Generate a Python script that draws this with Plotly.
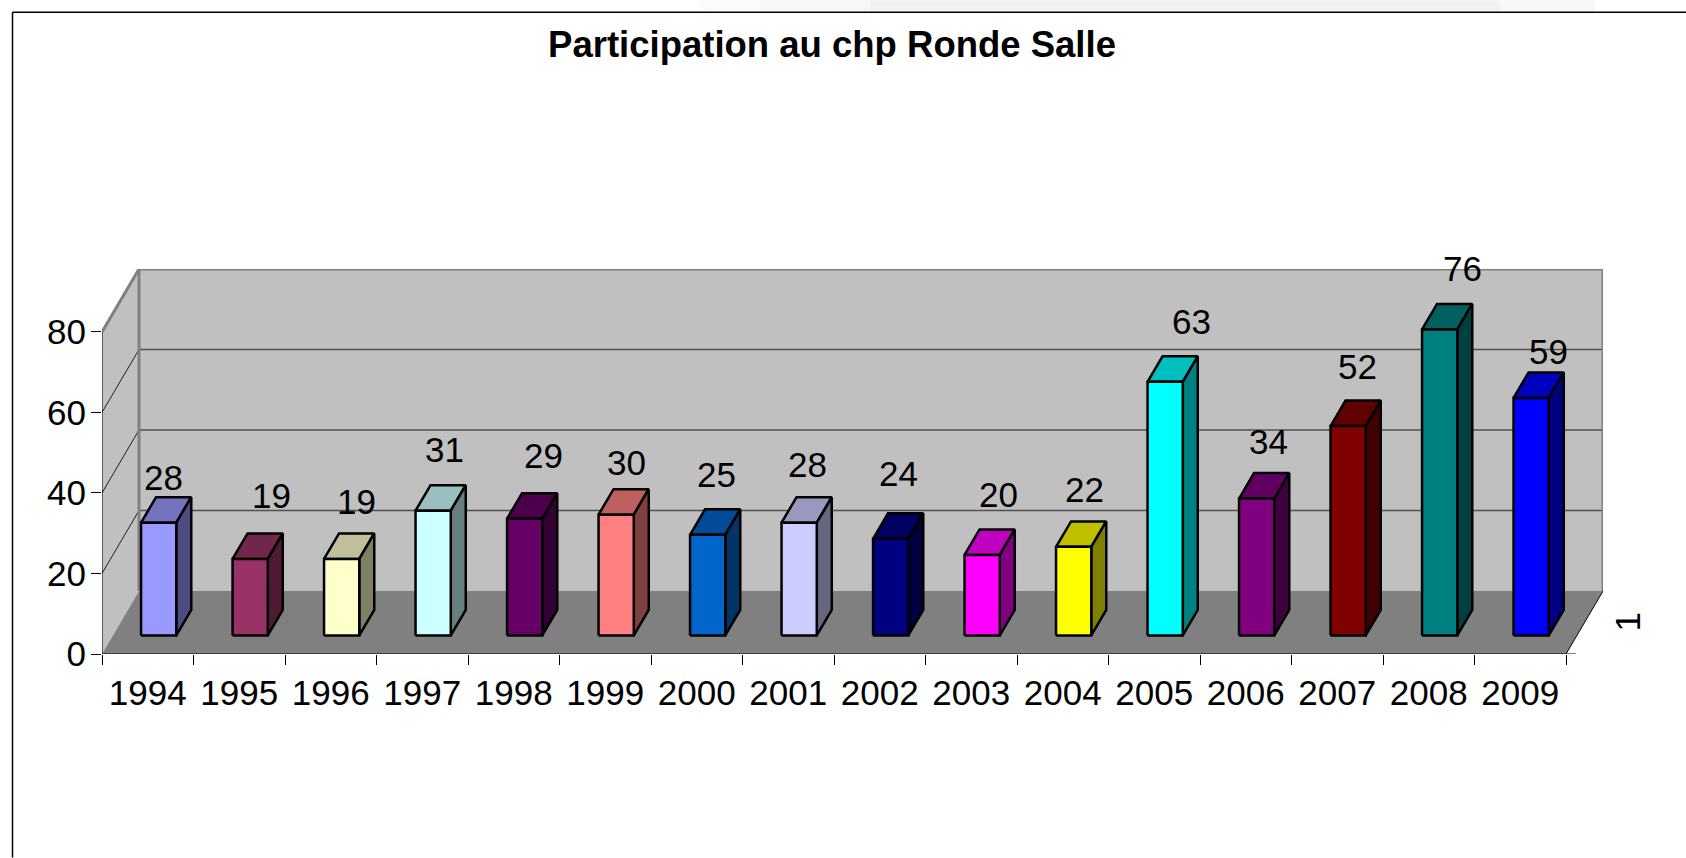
import plotly.graph_objects as go

years = [str(y) for y in range(1994, 2010)]
values = [28, 19, 19, 31, 29, 30, 25, 28, 24, 20, 22, 63, 34, 52, 76, 59]
bar_colors = ["#9999FF", "#993366", "#FFFFCC", "#CCFFFF", "#660066", "#FF8080",
              "#0066CC", "#CCCCFF", "#000080", "#FF00FF", "#FFFF00", "#00FFFF",
              "#800080", "#800000", "#008080", "#0000FF"]
y_ticks = [0, 20, 40, 60, 80]
title_text = "Participation au chp Ronde Salle"
series_label = "1"

# per-label placement nudges, in pixels, from the bar's top-back corner
label_dx = [-10, 6, 0, -4, 4, -5, -6, -7, -7, 1, -4, 11, -3, -6, 8, 2]
label_dy = [20, 38, 32, 36, 38, 27, 35, 33, 40, 35, 32, 35, 32, 34, 35, 21]

W, H = 1686, 858
L, R, T, B = 102, 1603, 269, 654.3
CAT_PX = 91.5
UNIT_PX = 4.03
DX_PX, DY_PX = 37, 63
DEPTH_X = DX_PX / CAT_PX
DEPTH_Y = DY_PX / UNIT_PX
X0, X1 = -0.5, 15.5
Y_TOP = 80
BAR_W = 0.385
D0, D1 = 0.295, 0.7
FONT = "Liberation Sans, Arial, sans-serif"
XMAX = X1 + DEPTH_X
YMAX = Y_TOP + DEPTH_Y


def project(x, y, d):
    return x + DEPTH_X * d, y + DEPTH_Y * d


def shade(hex_color, k):
    r, g, b = (int(hex_color[i:i + 2], 16) for i in (1, 3, 5))
    return f"rgb({round(r * k)},{round(g * k)},{round(b * k)})"


fig = go.Figure()


def poly(points, fill, line_color=None, width=0):
    xs, ys = zip(*points)
    fig.add_trace(go.Scatter(
        x=list(xs) + [xs[0]], y=list(ys) + [ys[0]], mode="lines", fill="toself",
        fillcolor=fill, line=dict(color=line_color or fill, width=width),
        hoverinfo="skip", showlegend=False, cliponaxis=False))


def seg(points, color, width):
    xs, ys = zip(*points)
    fig.add_trace(go.Scatter(x=list(xs), y=list(ys), mode="lines",
                             line=dict(color=color, width=width),
                             hoverinfo="skip", showlegend=False, cliponaxis=False))


# walls and floor
poly([project(X0, 0, 1), project(X1, 0, 1), project(X1, Y_TOP, 1), project(X0, Y_TOP, 1)], "#C0C0C0")
poly([project(X0, 0, 0), project(X0, 0, 1), project(X0, Y_TOP, 1), project(X0, Y_TOP, 0)], "#C0C0C0")
poly([project(X0, 0, 0), project(X1, 0, 0), project(X1, 0, 1), project(X0, 0, 1)], "#808080")

# gridlines
for v in y_ticks[1:-1]:
    seg([project(X0, v, 1), project(X1, v, 1)], "#505050", 1.5)
    seg([project(X0, v, 0), project(X0, v, 1)], "#202020", 1)

# wall frame
seg([project(X0, Y_TOP, 0), project(X0, Y_TOP, 1), project(X1, Y_TOP, 1), project(X1, 0, 1)], "#808080", 3)
seg([project(X0, 0, 1), project(X0, Y_TOP, 1)], "#808080", 3)
seg([project(X0, Y_TOP, 0), project(X0, 0, 0), project(X1, 0, 0), project(X1, 0, 1)], "#000000", 1)
seg([project(X1, 0, 1), project(X1 + 0.11, 0, 1)], "#000000", 1)
seg([project(X1, 0, 0), project(X1 + 0.11, 0, 0)], "#000000", 1)

# bars
for i, (v, c) in enumerate(zip(values, bar_colors)):
    a, b = i - BAR_W / 2, i + BAR_W / 2
    poly([project(a, v, D0), project(b, v, D0), project(b, v, D1), project(a, v, D1)],
         shade(c, 0.75), "#000000", 2.5)
    poly([project(b, 0, D0), project(b, 0, D1), project(b, v, D1), project(b, v, D0)],
         shade(c, 0.5), "#000000", 2.5)
    poly([project(a, 0, D0), project(b, 0, D0), project(b, v, D0), project(a, v, D0)],
         c, "#000000", 2.5)

annotations = []
for i, (v, ddx, ddy) in enumerate(zip(values, label_dx, label_dy)):
    px, py = project(i, v, D1)
    annotations.append(dict(x=px, y=py, xref="x", yref="y", text=str(v), showarrow=False,
                            xshift=ddx, yshift=ddy,
                            font=dict(family=FONT, size=35, color="#000000")))
sx, sy = project(X1 + 0.465, 0, 0.5)
annotations.append(dict(x=(sx - X0) / (XMAX - X0), y=sy / YMAX, xref="paper", yref="paper",
                        xanchor="center", yanchor="middle",
                        text=series_label, showarrow=False, textangle=-90,
                        font=dict(family=FONT, size=35, color="#000000")))


def pline(x0, y0, x1, y1):
    return dict(type="line", xref="paper", yref="paper", layer="above",
                x0=(x0 - L) / (R - L), x1=(x1 - L) / (R - L),
                y0=(B - y0) / (B - T), y1=(B - y1) / (B - T),
                line=dict(color="#000000", width=1.5))


def band(x0, x1, color):
    return dict(type="rect", xref="paper", yref="paper", layer="below", line=dict(width=0),
                x0=(x0 - L) / (R - L), x1=(x1 - L) / (R - L),
                y0=(B - 0) / (B - T), y1=(B - 12) / (B - T), fillcolor=color)


fig.update_layout(
    width=W, height=H,
    margin=dict(l=L, r=W - R, t=T, b=H - B, pad=0),
    paper_bgcolor="#FFFFFF", plot_bgcolor="#FFFFFF",
    showlegend=False,
    hovermode=False,
    font=dict(family=FONT, size=35, color="#000000"),
    title=dict(text=f"<b>{title_text}</b>", x=832 / W, xref="container", xanchor="center",
               y=1 - 44 / H, yref="container", yanchor="middle",
               font=dict(family=FONT, size=36.5, color="#000000")),
    xaxis=dict(range=[X0, XMAX], showgrid=False, zeroline=False, showline=False,
               tickmode="array", tickvals=list(range(len(years))), ticktext=years,
               ticks="", ticklabelstandoff=15,
               minor=dict(tickmode="array", tickvals=[k - 0.5 for k in range(len(years) + 1)],
                          ticks="outside", ticklen=10, tickwidth=1, tickcolor="#000000", showgrid=False)),
    yaxis=dict(range=[0, YMAX], showgrid=False, zeroline=False, showline=False,
               tickmode="array", tickvals=y_ticks, ticks="outside", ticklen=10, tickwidth=1,
               tickcolor="#000000", ticklabelstandoff=-2),
    annotations=annotations,
    shapes=[
        band(700, 760, "#FBFBFB"), band(760, 870, "#F7F7F7"),
        band(870, 1500, "#F2F2F2"), band(1500, 1595, "#F8F8F8"),
        pline(12.5, 12, 12.5, H),
        pline(12.5, 12, W, 12),
    ],
)

fig.write_html("out.html", config=dict(displayModeBar=False),
               post_script="document.body.style.margin='0';document.body.style.overflow='hidden';")
